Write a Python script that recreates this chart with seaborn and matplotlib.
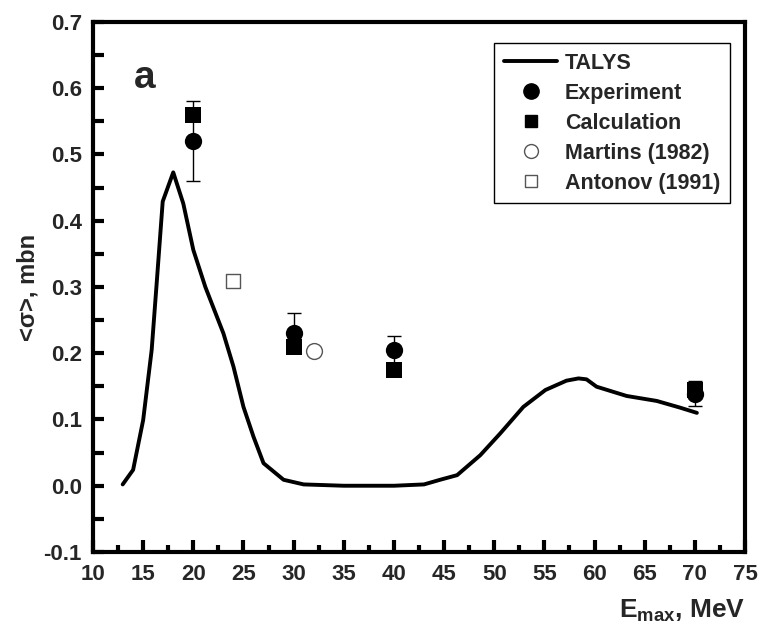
import matplotlib
matplotlib.use("Agg")
import matplotlib.pyplot as plt
from matplotlib.ticker import MultipleLocator, FormatStrFormatter
from matplotlib.lines import Line2D
import seaborn as sns
import pandas as pd

# TALYS calculation (flux-averaged cross section vs end-point energy)
talys_e = [12.96, 14.0, 15.0, 15.85, 16.35, 16.95, 18.0, 19.0, 20.0, 21.2, 23.0,
           24.0, 25.0, 26.0, 27.0, 29.0, 31.0, 35.0, 40.0, 43.0, 44.6, 46.3,
           48.6, 50.6, 52.9, 55.1, 57.2, 58.4, 59.2, 60.2, 63.2, 66.2, 68.5, 70.2]
talys_sigma = [0.002, 0.024, 0.099, 0.205, 0.306, 0.429, 0.473, 0.426, 0.356, 0.30, 0.23,
               0.18, 0.119, 0.074, 0.034, 0.009, 0.002, 0.0, 0.0, 0.002, 0.009, 0.016,
               0.046, 0.079, 0.119, 0.1445, 0.1586, 0.162, 0.1606, 0.1495, 0.1355, 0.128, 0.118, 0.110]

# Present experiment with uncertainties
exp_e = [20, 30, 40, 70]
exp_sigma = [0.52, 0.23, 0.205, 0.139]
exp_err = [0.06, 0.03, 0.021, 0.019]

# Calculated yields
calc_e = [20, 30, 40, 70]
calc_sigma = [0.56, 0.21, 0.175, 0.145]

# Earlier measurements
martins_e = [32]
martins_sigma = [0.204]
antonov_e = [24]
antonov_sigma = [0.309]

sns.set_style("white")
plt.rcParams["font.family"] = ["Liberation Sans", "DejaVu Sans"]
plt.rcParams["font.weight"] = "bold"
plt.rcParams["mathtext.fontset"] = "custom"
plt.rcParams["mathtext.rm"] = "Liberation Sans:bold"
plt.rcParams["mathtext.bf"] = "Liberation Sans:bold"

fig = plt.figure(figsize=(7.61, 6.31), dpi=100)
ax = fig.add_axes([0.1222, 0.1252, 0.8568, 0.8400])

talys = pd.DataFrame({"E": talys_e, "sigma": talys_sigma})
sns.lineplot(data=talys, x="E", y="sigma", ax=ax, color="black", lw=2.8,
             sort=False, legend=False)

ax.errorbar(exp_e, exp_sigma, yerr=exp_err, fmt="none", ecolor="black",
            elinewidth=1.0, capsize=4.7, capthick=1.0, zorder=3)

sns.scatterplot(x=calc_e, y=calc_sigma, ax=ax, marker="s", s=120, color="black",
                edgecolor="black", linewidth=0, zorder=4, legend=False)
sns.scatterplot(x=exp_e, y=exp_sigma, ax=ax, marker="o", s=155, color="black",
                edgecolor="black", linewidth=0, zorder=5, legend=False)
sns.scatterplot(x=martins_e, y=martins_sigma, ax=ax, marker="o", s=130,
                facecolor="white", edgecolor="#555555", linewidth=1.0, zorder=4, legend=False)
sns.scatterplot(x=antonov_e, y=antonov_sigma, ax=ax, marker="s", s=115,
                facecolor="white", edgecolor="#555555", linewidth=1.0, zorder=4, legend=False)

ax.set_xlim(10, 75)
ax.set_ylim(-0.1, 0.7)
ax.xaxis.set_major_locator(MultipleLocator(5))
ax.xaxis.set_minor_locator(MultipleLocator(2.5))
ax.yaxis.set_major_locator(MultipleLocator(0.1))
ax.yaxis.set_minor_locator(MultipleLocator(0.05))
ax.yaxis.set_major_formatter(FormatStrFormatter("%.1f"))

for s in ax.spines.values():
    s.set_linewidth(3)
    s.set_color("black")
ax.tick_params(which="both", direction="in", top=False, right=False,
               left=True, bottom=True, width=3, color="black")
ax.tick_params(axis="x", which="major", length=9, labelsize=16, pad=9)
ax.tick_params(axis="x", which="minor", length=5)
ax.tick_params(axis="y", which="major", length=8, labelsize=16, pad=8)
ax.tick_params(axis="y", which="minor", length=8)
for lab in ax.get_xticklabels() + ax.get_yticklabels():
    lab.set_fontweight("bold")

ax.set_xlabel("")
ax.set_ylabel("<σ>, mbn", fontsize=17, fontweight="bold", labelpad=3)
ax.text(1.0, -0.123, r"E$_{\mathrm{max}}$, MeV", transform=ax.transAxes,
        ha="right", va="baseline", fontsize=19, fontweight="bold")

ax.text(15.2, 0.601, "a", fontsize=28, fontweight="bold", ha="center", va="baseline")

handles = [
    Line2D([], [], color="black", lw=2.8),
    Line2D([], [], marker="o", ls="none", color="black", ms=11),
    Line2D([], [], marker="s", ls="none", color="black", ms=8.5),
    Line2D([], [], marker="o", ls="none", mfc="white", mec="#555555", ms=10, mew=1),
    Line2D([], [], marker="s", ls="none", mfc="white", mec="#555555", ms=8.5, mew=1),
]
labels = ["TALYS", "Experiment", "Calculation", "Martins (1982)", "Antonov (1991)"]
leg = ax.legend(handles, labels, loc="upper right", bbox_to_anchor=(0.977, 0.9604),
                borderaxespad=0,
                prop={"size": 15.5, "weight": "bold"}, frameon=True, fancybox=False,
                edgecolor="black", framealpha=1, handlelength=2.5,
                handletextpad=0.35, labelspacing=0.42, borderpad=0.45)
leg.get_frame().set_linewidth(1.0)

fig.savefig("out.png", dpi=100)
